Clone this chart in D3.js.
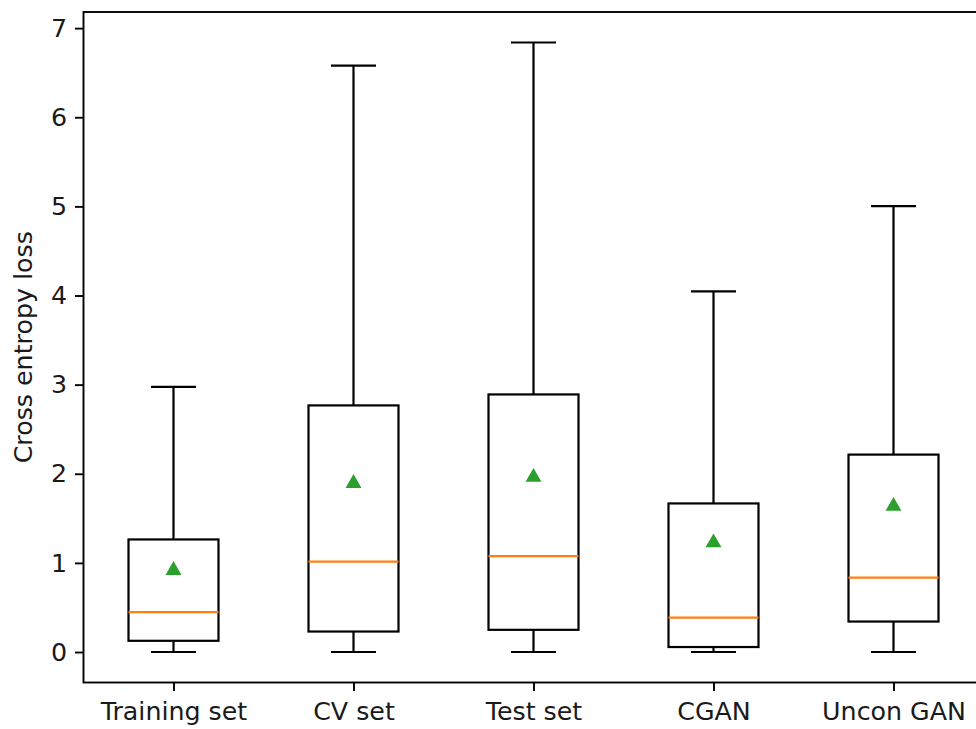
<!DOCTYPE html>
<html>
<head>
<meta charset="utf-8">
<script src="https://cdn.jsdelivr.net/npm/d3@7"></script>
<style>
  html, body { margin: 0; padding: 0; background: #fff; }
  svg { display: block; font-family: "DejaVu Sans", sans-serif; }
</style>
</head>
<body>
<svg id="chart" width="976" height="729"></svg>
<script>
// Cross entropy loss per data source: five-number summary plus mean
const categories = ["Training set", "CV set", "Test set", "CGAN", "Uncon GAN"];
const whiskerLow = [0.0, 0.0, 0.0, 0.0, 0.0];
const q1 = [0.126, 0.23, 0.249, 0.056, 0.342];
const median = [0.447, 1.014, 1.077, 0.387, 0.835];
const q3 = [1.263, 2.767, 2.89, 1.667, 2.215];
const whiskerHigh = [2.976, 6.579, 6.839, 4.046, 5.004];
const means = [0.928, 1.904, 1.972, 1.237, 1.648];
const yTicks = [0, 1, 2, 3, 4, 5, 6, 7];
const yLabel = "Cross entropy loss";

const svg = d3.select("#chart");
const frame = { left: 83.5, right: 983.5, top: 12, bottom: 682.5 };
const fontSize = 25.3;
const lw = 2.2;

// 5% margin around the data extent, like the default autoscale
const lo = d3.min(whiskerLow), hi = d3.max(whiskerHigh);
const pad = (hi - lo) * 0.05;
const y = d3.scaleLinear().domain([lo - pad, hi + pad]).range([frame.bottom, frame.top]);
const x = d3.scalePoint().domain(categories).range([frame.left, frame.right]).padding(0.5);
const step = x.step();
const boxW = step * 0.5;
const capW = boxW * 0.5;

const rows = categories.map((c, i) => ({
  c, lo: whiskerLow[i], q1: q1[i], med: median[i], q3: q3[i], hi: whiskerHigh[i], mean: means[i]
}));

const g = svg.append("g");

// whiskers
g.selectAll(".whisker-lo").data(rows).join("line")
  .attr("x1", d => x(d.c)).attr("x2", d => x(d.c))
  .attr("y1", d => y(d.q1)).attr("y2", d => y(d.lo))
  .attr("stroke", "#000").attr("stroke-width", lw);
g.selectAll(".whisker-hi").data(rows).join("line")
  .attr("x1", d => x(d.c)).attr("x2", d => x(d.c))
  .attr("y1", d => y(d.q3)).attr("y2", d => y(d.hi))
  .attr("stroke", "#000").attr("stroke-width", lw);

// caps
["lo", "hi"].forEach(k => {
  g.selectAll(".cap-" + k).data(rows).join("line")
    .attr("x1", d => x(d.c) - capW / 2).attr("x2", d => x(d.c) + capW / 2)
    .attr("y1", d => y(d[k])).attr("y2", d => y(d[k]))
    .attr("stroke", "#000").attr("stroke-width", lw);
});

// boxes
g.selectAll(".box").data(rows).join("rect")
  .attr("x", d => x(d.c) - boxW / 2).attr("width", boxW)
  .attr("y", d => y(d.q3)).attr("height", d => y(d.q1) - y(d.q3))
  .attr("fill", "none").attr("stroke", "#000").attr("stroke-width", lw);

// medians
g.selectAll(".median").data(rows).join("line")
  .attr("x1", d => x(d.c) - boxW / 2).attr("x2", d => x(d.c) + boxW / 2)
  .attr("y1", d => y(d.med)).attr("y2", d => y(d.med))
  .attr("stroke", "#ff7f0e").attr("stroke-width", lw);

// means as triangles
const tri = d3.symbol().type(d3.symbolTriangle).size(110);
g.selectAll(".mean").data(rows).join("path")
  .attr("d", tri)
  .attr("transform", d => `translate(${x(d.c)},${y(d.mean) + 1})`)
  .attr("fill", "#2ca02c");

// axes
const yAxis = d3.axisLeft(y).tickValues(yTicks).tickSize(8.5).tickPadding(8).tickFormat(d3.format("d"));
const yG = svg.append("g").attr("transform", `translate(${frame.left},0)`).call(yAxis);
const xAxis = d3.axisBottom(x).tickSize(8.5).tickPadding(11);
const xG = svg.append("g").attr("transform", `translate(0,${frame.bottom})`).call(xAxis);
[yG, xG].forEach(a => {
  a.select(".domain").remove();
  a.selectAll(".tick line").attr("stroke", "#000").attr("stroke-width", 1.9);
  a.selectAll(".tick text").attr("font-size", fontSize).attr("fill", "#1a1a1a")
    .attr("font-family", "DejaVu Sans, sans-serif");
});

// frame
svg.append("rect")
  .attr("x", frame.left).attr("y", frame.top)
  .attr("width", frame.right - frame.left).attr("height", frame.bottom - frame.top)
  .attr("fill", "none").attr("stroke", "#000").attr("stroke-width", 1.9);

// y label
svg.append("text")
  .attr("transform", `translate(32,${(frame.top + frame.bottom) / 2}) rotate(-90)`)
  .attr("text-anchor", "middle")
  .attr("font-size", fontSize).attr("fill", "#1a1a1a")
  .text(yLabel);
</script>
</body>
</html>
